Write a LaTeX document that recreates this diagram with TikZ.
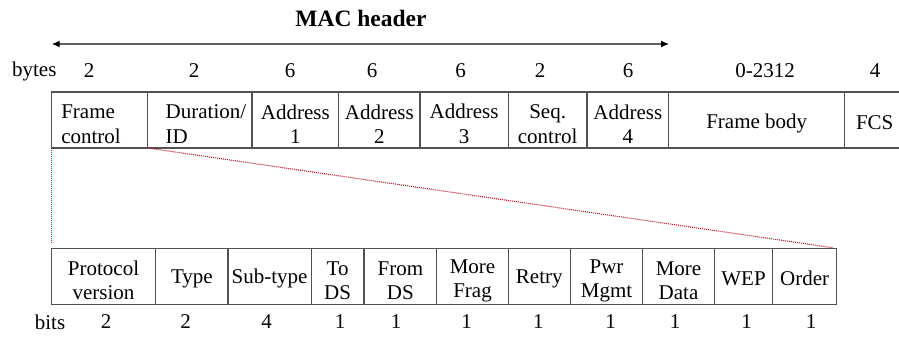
\documentclass[tikz,border=0pt]{standalone}
\usepackage{fontspec}
\setmainfont{Liberation Serif}
\usetikzlibrary{positioning,arrows.meta}
\colorlet{cline}{black!68}
\colorlet{czoom}{rgb:red,240;green,30;blue,60}
\newcommand\twoline{\rule{0pt}{22.5pt}}
\newcommand\oneline{\rule{0pt}{19pt}}

\begin{document}
\begin{tikzpicture}[x=1pt, y=-1pt, node distance=0pt, font=\fontsize{21}{24.5}\selectfont]
\tikzstyle{cell}=[draw=cline, line width=1.3pt, minimum height=56pt, inner xsep=0pt, inner ysep=2pt, outer sep=0pt, align=center]
\tikzstyle{num}=[inner sep=0pt]
\tikzstyle{zoomline}=[czoom, dash pattern=on 1pt off 1pt, line width=1.1pt]
\useasboundingbox (0,0) rectangle (899,337);

% MAC frame
\node[cell, minimum width=96.4pt, anchor=north west, align=left, text width=76.4pt, inner xsep=10pt] (fc) at (51.3,92) {\twoline Frame\\control};
\node[cell, minimum width=104.3pt, right=of fc, align=left, text width=68.3pt, inner xsep=18pt] (dur) {\twoline\mbox{Duration/}\\ID};
\node[cell, minimum width=86.7pt, right=of dur] (a1) {\twoline Address\\1};
\node[cell, minimum width=81.3pt, right=of a1] (a2) {\twoline Address\\2};
\node[cell, minimum width=88.3pt, right=of a2] (a3) {\twoline Address\\3};
\node[cell, minimum width=78.7pt, right=of a3] (seq) {\twoline Seq.\\control};
\node[cell, minimum width=81.7pt, right=of seq] (a4) {\twoline Address\\4};
\node[cell, minimum width=176pt, right=of a4] (body) {\rule{0pt}{21pt}Frame body};
\node[cell, minimum width=60pt, right=of body] (fcs) {\oneline FCS};

% frame control field
\node[cell, minimum width=104.4pt, anchor=north west] (pv) at (51.3,248.3) {\twoline Protocol\\version};
\node[cell, minimum width=72.3pt, right=of pv] (type) {\oneline Type};
\node[cell, minimum width=83.3pt, right=of type] (sub) {\oneline Sub-type};
\node[cell, minimum width=52.7pt, right=of sub] (tods) {\twoline To\\DS};
\node[cell, minimum width=72.7pt, right=of tods] (fromds) {\twoline From\\DS};
\node[cell, minimum width=71.6pt, right=of fromds] (mfrag) {\twoline More\\Frag};
\node[cell, minimum width=62pt, right=of mfrag] (retry) {\oneline Retry};
\node[cell, minimum width=72.4pt, right=of retry] (pwr) {\twoline Pwr\\Mgmt};
\node[cell, minimum width=71.6pt, right=of pwr] (mdata) {\twoline More\\Data};
\node[cell, minimum width=58.4pt, right=of mdata] (wep) {\oneline WEP};
\node[cell, minimum width=64pt, right=of wep] (order) {\oneline Order};

% sizes
\node[num] (bytes) at (34.3,71) {bytes};
\node[num] (b1) at (89,71) {2};   \node[num] (b2) at (194,71) {2};
\node[num] (b3) at (290,71) {6};  \node[num] (b4) at (372,71) {6};
\node[num] (b5) at (460.7,71) {6}; \node[num] (b6) at (540,71) {2};
\node[num] (b7) at (628,71) {6};  \node[num] (b8) at (765,71) {0-2312};
\node[num] (b9) at (875,71) {4};
\node[num] (bits) at (50,322) {bits};
\node[num] (t1) at (106,322) {2};   \node[num] (t2) at (185.7,322) {2};
\node[num] (t3) at (266.7,322) {4}; \node[num] (t4) at (340,322) {1};
\node[num] (t5) at (396,322) {1};   \node[num] (t6) at (466.7,322) {1};
\node[num] (t7) at (538.3,322) {1}; \node[num] (t8) at (610.7,322) {1};
\node[num] (t9) at (675,322) {1};   \node[num] (t10) at (746.7,322) {1};
\node[num] (t11) at (811,322) {1};

% header span
\node[num, font=\fontsize{23.5}{28}\selectfont\bfseries] (mac) at (361,18) {MAC header};
\coordinate (hl) at (51.7,44);
\coordinate (hr) at (669,44);
\draw[black!62, line width=1.3pt, {Latex[length=8pt,width=7pt,color=black]}-{Latex[length=8pt,width=7pt,color=black]}] (hl) -- (hr);

% zoom lines
\draw[zoomline, shorten >=4.5pt] ([xshift=0.5pt]fc.south west) -- ([xshift=0.5pt]pv.north west);
\draw[zoomline, shorten >=4pt] (fc.south east) -- (order.north east);
\end{tikzpicture}
\end{document}
